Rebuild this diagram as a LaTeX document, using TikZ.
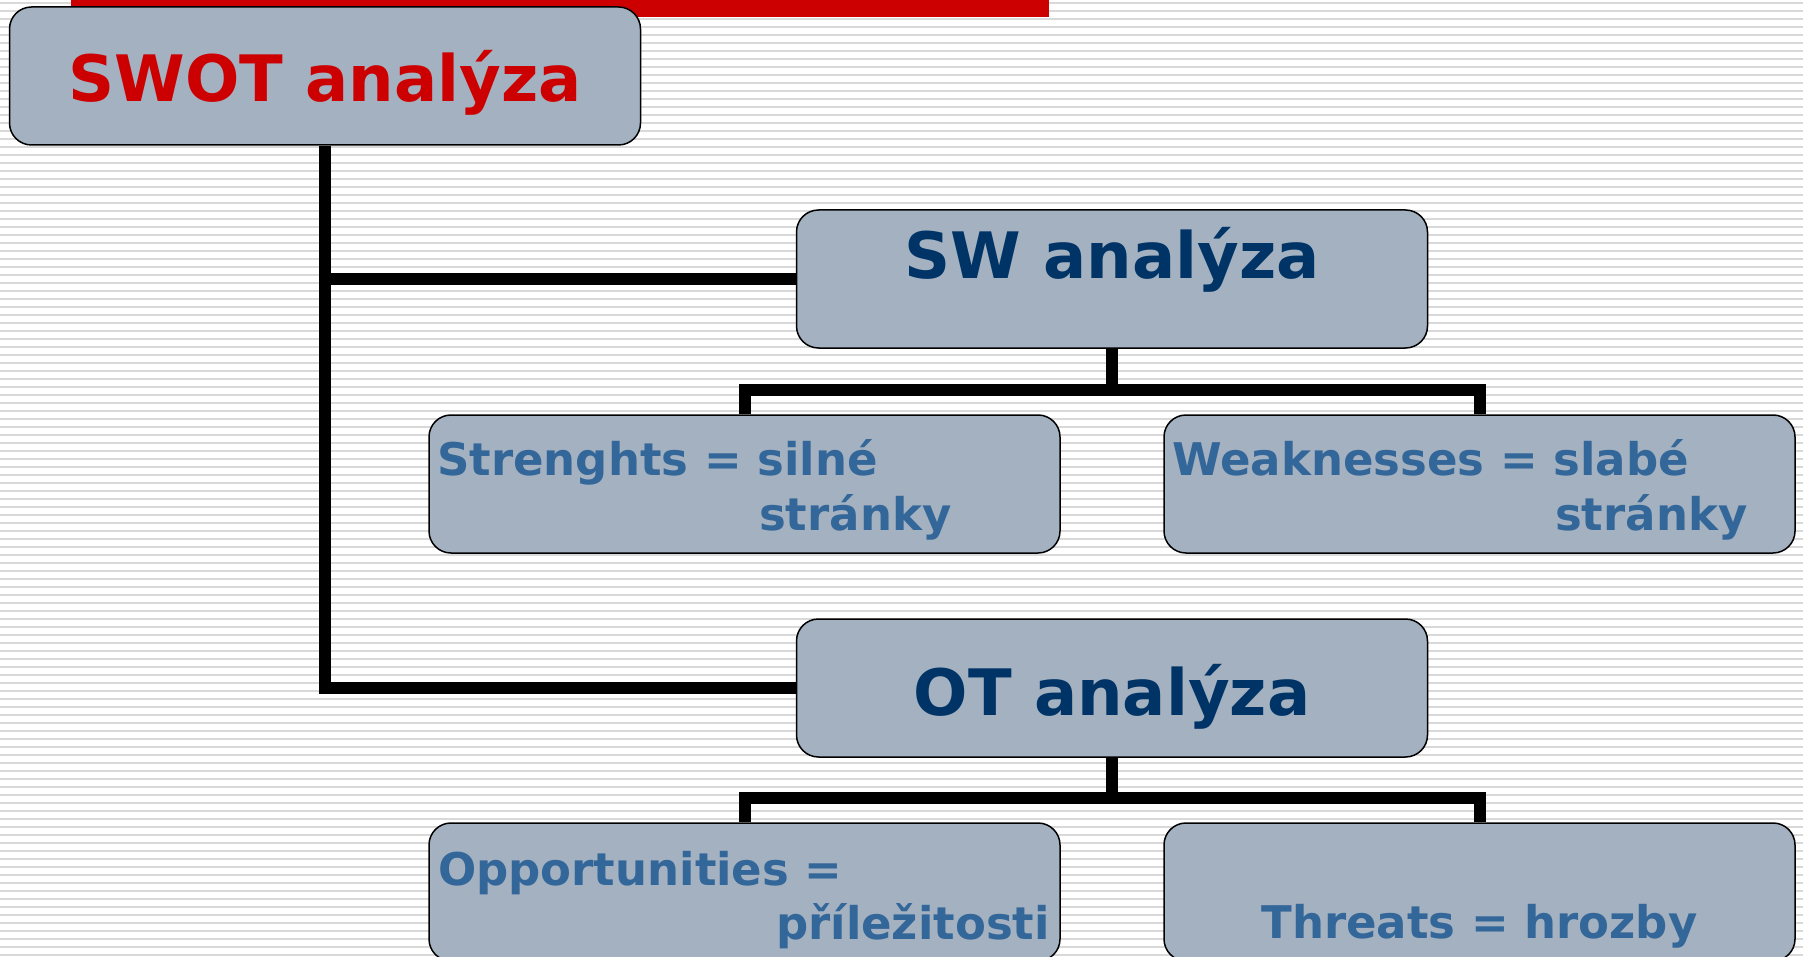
\documentclass[tikz,border=0pt]{standalone}
\usepackage{fontspec}
\setsansfont{DejaVu Sans}
\usetikzlibrary{positioning}

\definecolor{swotred}{HTML}{CC0000}
\definecolor{boxgrey}{HTML}{A3B1C0}
\definecolor{darkblue}{HTML}{003366}
\definecolor{lightblue}{HTML}{336699}
\definecolor{stripe}{HTML}{D9D9D9}

\tikzset{
    box/.style={draw=black, line width=1.5pt, fill=boxgrey, rounded corners=22pt,
        minimum width=631pt, minimum height=138pt, inner sep=0pt},
    title/.style={font=\sffamily\bfseries\fontsize{64}{70}\selectfont, inner sep=0pt, anchor=base},
    sub/.style={font=\sffamily\bfseries\fontsize{45}{50}\selectfont, text=lightblue,
        inner sep=0pt, anchor=base west},
    link/.style={line width=12pt}
}

\begin{document}
\begin{tikzpicture}[x=1pt, y=-1pt]
    \useasboundingbox (0,0) rectangle (1803,957);
    \fill[white] (0,0) rectangle (1803,957);
    \foreach \k in {0,...,119}
        \draw[stripe, line width=1.8pt] (0,2.7+8*\k) -- (1803,2.7+8*\k);
    \fill[swotred] (71,0) rectangle (1049,17);

    % boxes
    \node[box] (swot) at (325,76) {};
    \node[box] (sw) at (1112,279) {};
    \node[box] (ot) at (1112,688) {};
    \node[box] (s) at (744.5,484) {};
    \node[box] (w) at (1479.5,484) {};
    \node[box] (o) at (744.5,892) {};
    \node[box] (t) at (1479.5,892) {};

    % connectors
    \coordinate (swbus) at (1112,390);
    \coordinate (otbus) at (1112,798);
    \draw[link] (swot.south) |- (ot.west);
    \draw[link] (swot.south |- sw.west) -- (sw.west);
    \draw[link] (sw.south) -- (swbus);
    \draw[link] (s.north) |- (swbus) -| (w.north);
    \draw[link] (ot.south) -- (otbus);
    \draw[link] (o.north) |- (otbus) -| (t.north);

    % texts
    \node[title, text=swotred] (swottext) at (325,102) {SWOT analýza};
    \node[title, text=darkblue] (swtext) at (1112,279) {SW analýza};
    \node[title, text=darkblue] (ottext) at (1112,715) {OT analýza};
    \node[sub] (s1) at (437,475) {Strenghts = silné};
    \node[sub] (s2) at (759,530) {stránky};
    \node[sub] (w1) at (1172,475) {Weaknesses = slabé};
    \node[sub] (w2) at (1555,530) {stránky};
    \node[sub] (o1) at (438,885) {Opportunities =};
    \node[sub] (o2) at (776,939) {příležitosti};
    \node[sub, anchor=base] (t1) at (1479.5,938) {Threats = hrozby};
\end{tikzpicture}
\end{document}
